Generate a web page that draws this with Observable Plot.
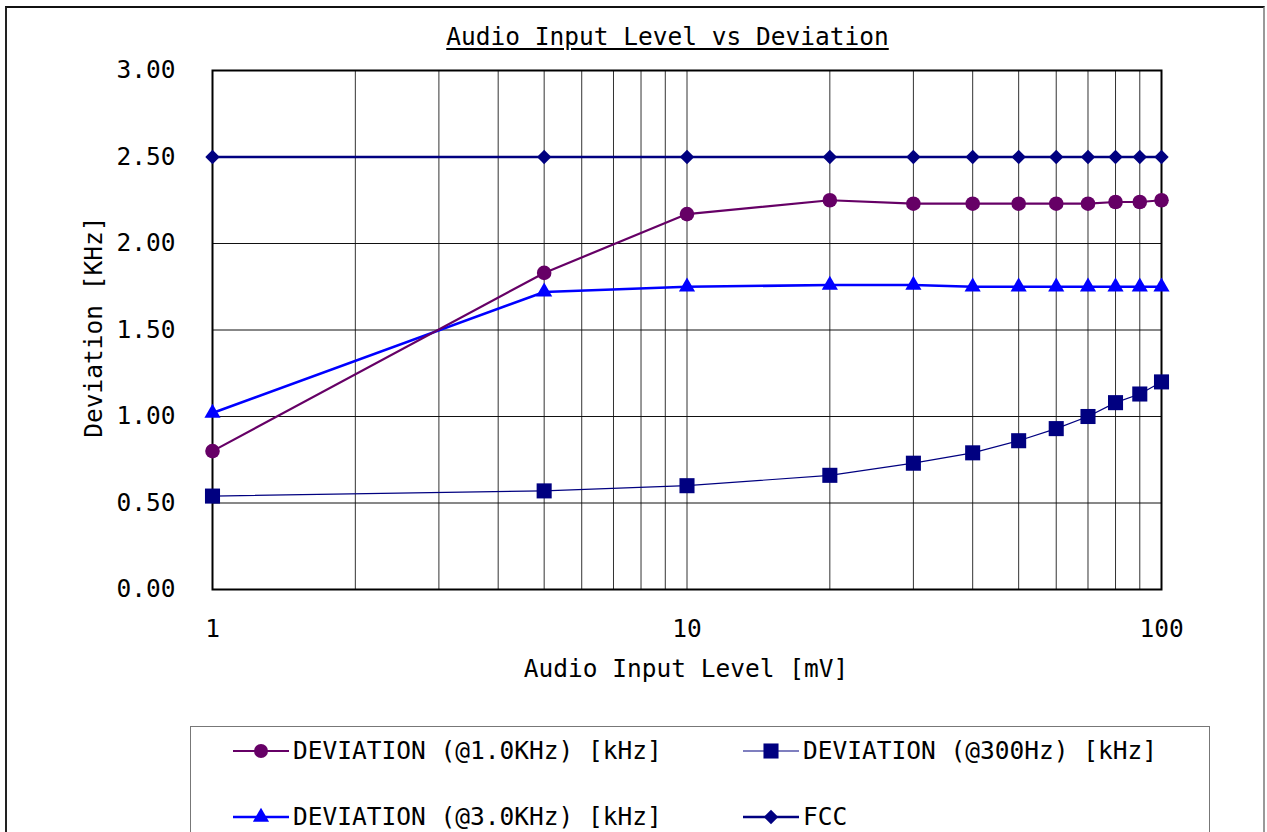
<!DOCTYPE html>
<html>
<head>
<meta charset="utf-8">
<script src="https://cdn.jsdelivr.net/npm/d3@7"></script>
<script src="https://cdn.jsdelivr.net/npm/@observablehq/plot@0.6"></script>
<style>
  html, body { margin: 0; padding: 0; background: #fff; }
  #wrap { position: relative; width: 1267px; height: 832px; overflow: hidden; font-family: "DejaVu Sans Mono", monospace; }
  #frame { position: absolute; left: 5px; top: 6px; width: 1260px; height: 840px; border-top: 2px solid #111; border-left: 2px solid #222; border-right: 2px solid #999; box-sizing: border-box; }
  .lbl { position: absolute; font-size: 24.5px; color: #000; white-space: nowrap; }
  #title { left: 0; width: 1335px; top: 22px; text-align: center; text-decoration: underline; text-underline-offset: 3px; }
  #xlabel { left: 0; width: 1372px; top: 654px; text-align: center; }
  #ylabel { left: 93px; top: 327px; transform: translate(-50%, -50%) rotate(-90deg); }
  #legend { position: absolute; left: 190px; top: 726px; width: 1020px; height: 140px; border: 1.5px solid #777; box-sizing: border-box; background: #fff; }
  .item { position: absolute; display: flex; align-items: center; font-size: 24.5px; line-height: 26px; white-space: nowrap; }
  .item svg { margin-right: 3px; }
  #plot { position: absolute; left: 0; top: 0; }
</style>
</head>
<body>
<div id="wrap">
  <div id="frame"></div>
  <div id="plot"></div>
  <div id="title" class="lbl">Audio Input Level vs Deviation</div>
  <div id="xlabel" class="lbl">Audio Input Level [mV]</div>
  <div id="ylabel" class="lbl">Deviation [KHz]</div>
  <div id="legend"></div>
</div>
<script>
const inputLevels = [1, 5, 10, 20, 30, 40, 50, 60, 70, 80, 90, 100];
const dev1k  = [0.80, 1.83, 2.17, 2.25, 2.23, 2.23, 2.23, 2.23, 2.23, 2.24, 2.24, 2.25];
const dev3k  = [1.02, 1.72, 1.75, 1.76, 1.76, 1.75, 1.75, 1.75, 1.75, 1.75, 1.75, 1.75];
const dev300 = [0.54, 0.57, 0.60, 0.66, 0.73, 0.79, 0.86, 0.93, 1.00, 1.08, 1.13, 1.20];
const fcc    = [2.50, 2.50, 2.50, 2.50, 2.50, 2.50, 2.50, 2.50, 2.50, 2.50, 2.50, 2.50];
const seriesNames = ["DEVIATION (@1.0KHz) [kHz]", "DEVIATION (@300Hz) [kHz]", "DEVIATION (@3.0KHz) [kHz]", "FCC"];
const xTickLabels = [1, 10, 100];
const xGrid = [1, 2, 3, 4, 5, 6, 7, 8, 9, 10, 20, 30, 40, 50, 60, 70, 80, 90, 100];
const yTicks = [0, 0.5, 1, 1.5, 2, 2.5, 3];

const styles = {
  "DEVIATION (@1.0KHz) [kHz]": {color: "#660066", width: 2.2, symbol: "circle", r: 7.3},
  "DEVIATION (@300Hz) [kHz]":  {color: "#000080", width: 1.2, symbol: "square", r: 8.5},
  "DEVIATION (@3.0KHz) [kHz]": {color: "#0000ff", width: 2.6, symbol: "triangle", r: 6},
  "FCC":                       {color: "#000080", width: 2.6, symbol: "diamond2", r: 6.5}
};
const valuesByName = {
  "DEVIATION (@1.0KHz) [kHz]": dev1k,
  "DEVIATION (@300Hz) [kHz]": dev300,
  "DEVIATION (@3.0KHz) [kHz]": dev3k,
  "FCC": fcc
};
const drawOrder = ["DEVIATION (@300Hz) [kHz]", "DEVIATION (@3.0KHz) [kHz]", "DEVIATION (@1.0KHz) [kHz]", "FCC"];

const marks = [
  Plot.ruleX(xGrid, {stroke: "#333", strokeWidth: 1}),
  Plot.ruleY(yTicks, {stroke: "#111", strokeWidth: 1}),
  Plot.frame({stroke: "#000", strokeWidth: 2}),
  Plot.axisY(yTicks, {tickSize: 0, tickPadding: 37, tickFormat: d3.format(".2f"), fontSize: 24.5, label: null}),
  Plot.axisX(xTickLabels, {tickSize: 0, tickPadding: 30, tickFormat: d => String(d), fontSize: 24.5, label: null})
];
for (const name of drawOrder) {
  const s = styles[name];
  const data = inputLevels.map((x, i) => ({x, y: valuesByName[name][i]}));
  marks.push(Plot.line(data, {x: "x", y: "y", stroke: s.color, strokeWidth: s.width}));
  marks.push(Plot.dot(data, {x: "x", y: "y", symbol: s.symbol, r: s.r, fill: s.color, stroke: "none"}));
}

const chart = Plot.plot({
  width: 1267,
  height: 832,
  marginLeft: 212,
  marginRight: 106,
  marginTop: 70,
  marginBottom: 243,
  style: {fontFamily: "'DejaVu Sans Mono', monospace", fontSize: "24.5px", color: "#000", background: "transparent", overflow: "visible"},
  x: {type: "log", domain: [1, 100]},
  y: {domain: [0, 3]},
  marks
});
document.getElementById("plot").appendChild(chart);

// Legend
const legend = document.getElementById("legend");
const positions = [
  [42, 24], [552, 24], [42, 90], [552, 90]
];
seriesNames.forEach((name, i) => {
  const s = styles[name];
  const item = document.createElement("div");
  item.className = "item";
  item.style.left = positions[i][0] + "px";
  item.style.top = (positions[i][1] - 16) + "px";
  let shape;
  if (s.symbol === "circle") shape = `<circle cx="28" cy="16" r="7" fill="${s.color}"/>`;
  else {
    const t = {square: d3.symbolSquare, triangle: d3.symbolTriangle, diamond2: d3.symbolDiamond2}[s.symbol];
    shape = `<path transform="translate(28,16)" d="${d3.symbol(t, Math.PI * s.r * s.r)()}" fill="${s.color}"/>`;
  }
  item.innerHTML = `<svg width="57" height="32"><line x1="0" x2="56" y1="16" y2="16" stroke="${s.color}" stroke-width="${s.width}"/>${shape}</svg><span>${name}</span>`;
  legend.appendChild(item);
});
</script>
</body>
</html>
